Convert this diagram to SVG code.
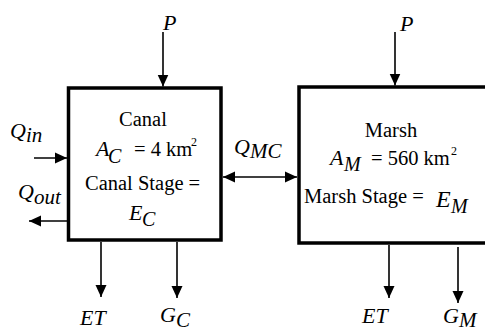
<svg xmlns="http://www.w3.org/2000/svg" width="485" height="331" viewBox="0 0 485 331">
<style>
.box{fill:#fff;stroke:#000;stroke-width:3.5}
.ln{stroke:#000;stroke-width:1.6;fill:none}
.t{font-family:"Liberation Serif","Times New Roman",serif;font-size:20.5px;fill:#000}
.i{font-style:italic;font-size:21px}
.sup{font-size:12px}
</style>
<defs>
<marker id="ah" viewBox="0 0 12 12" refX="12" refY="6" markerWidth="12" markerHeight="12" markerUnits="userSpaceOnUse" orient="auto-start-reverse">
<path d="M0,0.5 L12,6 L0,11.5 z" fill="#000"/>
</marker>
</defs>
<rect x="0" y="0" width="485" height="331" fill="#fff"/>

<g id="canal">
<rect class="box" x="68.5" y="88" width="152.5" height="152"/>
<text class="t" x="143" y="126" text-anchor="middle">Canal</text>
<text class="t"><tspan class="i" x="96" y="156" style="font-size:22px">A</tspan><tspan class="i" x="108" y="163" style="font-size:20px">C</tspan><tspan x="134" y="156">= 4 km</tspan><tspan class="sup" x="191" y="146">2</tspan></text>
<text class="t" x="85" y="190">Canal Stage =</text>
<text class="t"><tspan class="i" x="129" y="220" style="font-size:22px">E</tspan><tspan class="i" x="142" y="226" style="font-size:20px">C</tspan></text>
</g>

<g id="marsh">
<rect class="box" x="299" y="87" width="200" height="156"/>
<text class="t" x="391" y="137" text-anchor="middle">Marsh</text>
<text class="t"><tspan class="i" x="330" y="165" style="font-size:22px">A</tspan><tspan class="i" x="344" y="171" style="font-size:20px">M</tspan><tspan x="371" y="165">= 560 km</tspan><tspan class="sup" x="451" y="155">2</tspan></text>
<text class="t" x="304" y="203">Marsh Stage =</text>
<text class="t"><tspan class="i" x="436" y="207" style="font-size:24px">E</tspan><tspan class="i" x="451" y="213" style="font-size:20px">M</tspan></text>
</g>

<g id="connectors">
<line class="ln" x1="163" y1="32" x2="163" y2="86.5" marker-end="url(#ah)"/>
<line class="ln" x1="395" y1="32" x2="395" y2="85.5" marker-end="url(#ah)"/>
<line class="ln" x1="34" y1="158" x2="67" y2="158" marker-end="url(#ah)"/>
<line class="ln" x1="67" y1="221" x2="29" y2="221" marker-end="url(#ah)"/>
<line class="ln" x1="223" y1="177" x2="297" y2="177" marker-start="url(#ah)" marker-end="url(#ah)"/>
<line class="ln" x1="101" y1="242" x2="101" y2="297" marker-end="url(#ah)"/>
<line class="ln" x1="177" y1="242" x2="177" y2="298" marker-end="url(#ah)"/>
<line class="ln" x1="389" y1="245" x2="389" y2="298" marker-end="url(#ah)"/>
<line class="ln" x1="458" y1="247" x2="458" y2="303" marker-end="url(#ah)"/>
</g>

<g id="labels">
<text class="t i" x="163" y="30" style="font-size:22px">P</text>
<text class="t i" x="400" y="31" style="font-size:22px">P</text>
<text class="t i"><tspan x="10" y="138" style="font-size:22px">Q</tspan><tspan x="26" y="142">in</tspan></text>
<text class="t i"><tspan x="18" y="199" style="font-size:22px">Q</tspan><tspan x="34" y="204">out</tspan></text>
<text class="t i"><tspan x="234" y="154" style="font-size:22px">Q</tspan><tspan x="250" y="158">MC</tspan></text>
<text class="t i" x="80" y="325" style="font-size:22px">ET</text>
<text class="t i"><tspan x="160" y="322" style="font-size:22px">G</tspan><tspan x="176" y="327">C</tspan></text>
<text class="t i" x="362" y="323" style="font-size:22px">ET</text>
<text class="t i"><tspan x="443" y="323" style="font-size:22px">G</tspan><tspan x="459" y="327">M</tspan></text>
</g>
</svg>
